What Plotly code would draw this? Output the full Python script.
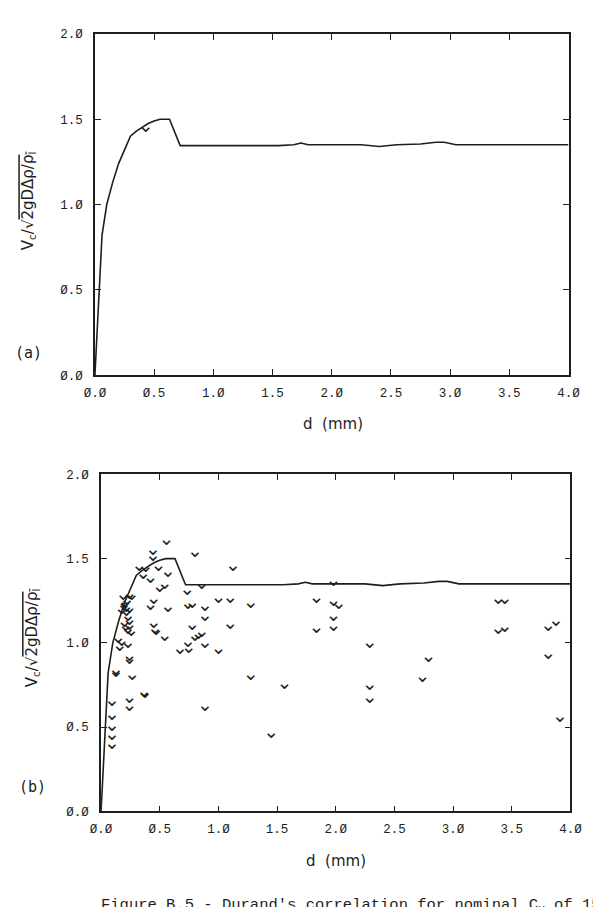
import plotly.graph_objects as go

# Durand correlation curve (same in both panels)
curve_d = [0.0, 0.06, 0.1, 0.15, 0.2, 0.25, 0.3, 0.35, 0.4, 0.45, 0.5, 0.55, 0.63, 0.72,
           0.9, 1.2, 1.55, 1.68, 1.74, 1.8, 2.0, 2.25, 2.4, 2.55, 2.75, 2.88, 2.95, 3.05, 3.5, 4.0]
curve_v = [0.0, 0.82, 1.0, 1.13, 1.24, 1.32, 1.40, 1.43, 1.455, 1.475, 1.49, 1.50, 1.50, 1.345,
           1.345, 1.345, 1.345, 1.35, 1.36, 1.35, 1.35, 1.35, 1.34, 1.35, 1.355, 1.365, 1.365, 1.35, 1.35, 1.35]

# panel (a) data point
a_d = [0.43]
a_v = [1.45]

# panel (b) experimental points
b_d = [0.557, 0.443, 0.443, 0.80, 1.125, 0.325, 0.38, 0.49, 0.57, 0.36, 0.42, 0.50, 0.543,
       0.735, 0.857, 0.262, 0.188, 0.448, 0.42, 0.57, 0.74, 0.776, 0.885, 1.0, 1.10, 1.275,
       0.885, 0.776, 1.10, 0.448, 0.46, 0.47, 0.543, 0.80, 0.83, 0.857, 0.74, 0.672, 0.748,
       0.885, 1.0, 1.275, 0.885, 0.366, 0.375, 0.265, 0.243, 0.243, 0.243, 0.243, 0.128,
       0.128, 0.093, 0.093, 0.093, 0.093, 0.093,
       0.243, 0.2, 0.195, 0.205, 0.22, 0.243, 0.216, 0.23, 0.243, 0.243, 0.23, 0.257, 0.147,
       0.175, 0.23, 0.16, 0.175, 0.215, 0.2, 0.21,
       1.45, 1.562, 1.836, 1.836, 1.98, 1.98, 2.025, 1.98, 1.98, 2.29, 2.29, 2.29, 2.79,
       2.74, 3.385, 3.44, 3.385, 3.44, 3.81, 3.877, 3.81, 3.91]
b_v = [1.61, 1.55, 1.515, 1.54, 1.457, 1.457, 1.45, 1.455, 1.42, 1.41, 1.385, 1.33, 1.35,
       1.311, 1.345, 1.28, 1.28, 1.256, 1.223, 1.213, 1.23, 1.237, 1.218, 1.262, 1.262, 1.233,
       1.155, 1.107, 1.113, 1.116, 1.078, 1.072, 1.04, 1.04, 1.05, 1.06, 1.003, 0.96, 0.97,
       1.0, 0.96, 0.805, 0.624, 0.708, 0.70, 0.805, 0.922, 0.903, 0.67, 0.624, 0.84,
       0.825, 0.653, 0.572, 0.504, 0.451, 0.397,
       1.288, 1.233, 1.225, 1.24, 1.25, 1.204, 1.185, 1.155, 1.136, 1.107, 1.078, 1.068, 1.03,
       1.01, 1.0, 0.98, 1.20, 1.21, 1.12, 1.10,
       0.465, 0.753, 1.262, 1.085, 1.365, 1.248, 1.23, 1.159, 1.10, 0.996, 0.747, 0.673, 0.912,
       0.793, 1.258, 1.258, 1.081, 1.09, 1.097, 1.126, 0.935, 0.556]

tick_vals = [0.0, 0.5, 1.0, 1.5, 2.0, 2.5, 3.0, 3.5, 4.0]
x_tick_text = ["Ø.Ø", "Ø.5", "1.Ø", "1.5", "2.Ø", "2.5", "3.Ø", "3.5", "4.Ø"]
y_tick_vals = [0.0, 0.5, 1.0, 1.5, 2.0]
y_tick_text = ["Ø.Ø", "Ø.5", "1.Ø", "1.5", "2.Ø"]

INK = "#1e1e1e"
W, H = 593, 907
MARK = "⌄"
mark_font = dict(family="DejaVu Sans", size=19, color=INK)

fig = go.Figure()

fig.add_trace(go.Scatter(x=curve_d, y=curve_v, mode="lines",
                         line=dict(color=INK, width=1.6), xaxis="x", yaxis="y",
                         showlegend=False, hoverinfo="skip"))
fig.add_trace(go.Scatter(x=a_d, y=a_v, mode="text", text=[MARK] * len(a_d),
                         textfont=mark_font, textposition="middle center",
                         xaxis="x", yaxis="y", showlegend=False))
fig.add_trace(go.Scatter(x=curve_d, y=curve_v, mode="lines",
                         line=dict(color=INK, width=1.6), xaxis="x2", yaxis="y2",
                         showlegend=False, hoverinfo="skip"))
fig.add_trace(go.Scatter(x=b_d, y=b_v, mode="text", text=[MARK] * len(b_d),
                         textfont=mark_font, textposition="middle center",
                         xaxis="x2", yaxis="y2", showlegend=False))

tickfont = dict(family="Liberation Mono", size=12.5, color=INK)
common_x = dict(range=[0, 4], tickvals=tick_vals, ticktext=x_tick_text, ticks="inside",
                ticklen=6, tickwidth=1.2, tickcolor=INK, showline=True, linecolor=INK,
                linewidth=1.5, mirror="ticks", showgrid=False, zeroline=False,
                tickfont=tickfont, ticklabelstandoff=5, fixedrange=True)
common_y = dict(range=[0, 2], tickvals=y_tick_vals, ticktext=y_tick_text, ticks="inside",
                ticklen=6, tickwidth=1.2, tickcolor=INK, showline=True, linecolor=INK,
                linewidth=1.5, mirror="ticks", showgrid=False, zeroline=False,
                tickfont=tickfont, ticklabelstandoff=8, fixedrange=True)

fig.update_layout(
    width=W, height=H,
    margin=dict(l=0, r=0, t=0, b=0),
    paper_bgcolor="white", plot_bgcolor="white",
    xaxis=dict(domain=[87.3 / W, 580 / W], anchor="y", **common_x),
    yaxis=dict(domain=[1 - 375 / H, 1 - 28.3 / H], anchor="x", **common_y),
    xaxis2=dict(domain=[93.7 / W, 582 / W], anchor="y2", **common_x),
    yaxis2=dict(domain=[1 - 818 / H, 1 - 475.7 / H], anchor="x2", **common_y),
)

ylabel = ("V<sub>c</sub>/√<span style='text-decoration:overline'>"
          "2gDΔρ/ρ<sub>l</sub></span>")
lab_font = dict(family="DejaVu Sans", size=15, color=INK)

annotations = [
    dict(text="d  (mm)", x=335 / W, y=1 - 425 / H, xref="paper", yref="paper",
         showarrow=False, font=lab_font, xanchor="center", yanchor="middle"),
    dict(text="d  (mm)", x=338 / W, y=1 - 868 / H, xref="paper", yref="paper",
         showarrow=False, font=lab_font, xanchor="center", yanchor="middle"),
    dict(text=ylabel, x=19 / W, y=1 - 198 / H, xref="paper", yref="paper",
         showarrow=False, textangle=-90, font=lab_font, xanchor="center", yanchor="middle"),
    dict(text=ylabel, x=22 / W, y=1 - 642 / H, xref="paper", yref="paper",
         showarrow=False, textangle=-90, font=lab_font, xanchor="center", yanchor="middle"),
    dict(text="(a)", x=18 / W, y=1 - 352 / H, xref="paper", yref="paper",
         showarrow=False, font=dict(family="DejaVu Sans Mono", size=15, color=INK),
         xanchor="center", yanchor="middle"),
    dict(text="(b)", x=22 / W, y=1 - 793 / H, xref="paper", yref="paper",
         showarrow=False, font=dict(family="DejaVu Sans Mono", size=15, color=INK),
         xanchor="center", yanchor="middle"),
    dict(text="Figure B.5 - Durand's correlation for nominal C<sub>v</sub> of 15%",
         x=92 / W, y=1 - 902 / H, xref="paper", yref="paper", showarrow=False,
         font=dict(family="Liberation Mono", size=15.5, color=INK),
         xanchor="left", yanchor="top"),
]
fig.update_layout(annotations=annotations)

fig.write_html("out.html")
